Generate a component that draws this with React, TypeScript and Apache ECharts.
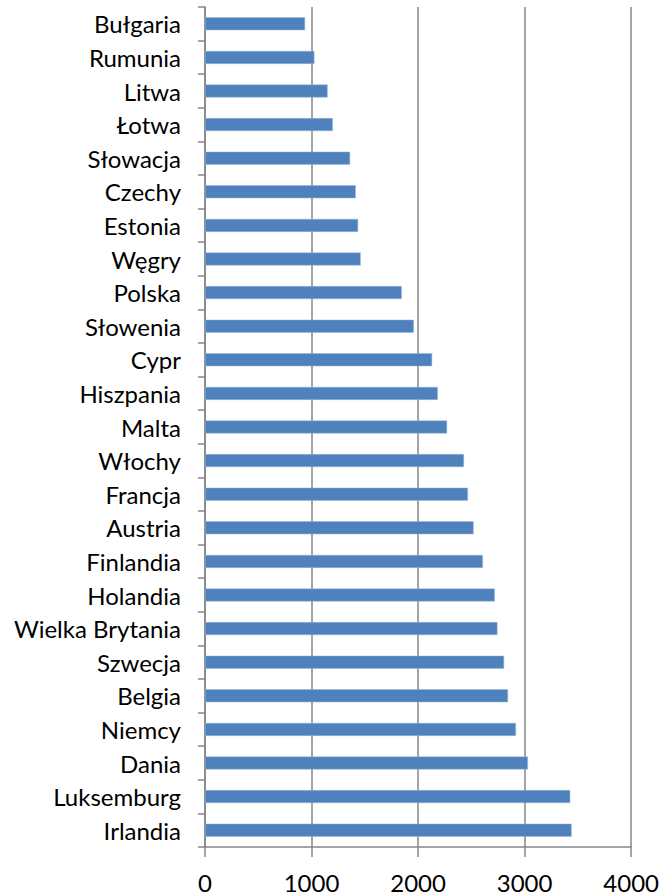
import React, { useEffect, useRef } from "react";
import * as echarts from "echarts";

const categories = [
  "Bułgaria", "Rumunia", "Litwa", "Łotwa", "Słowacja", "Czechy", "Estonia", "Węgry",
  "Polska", "Słowenia", "Cypr", "Hiszpania", "Malta", "Włochy", "Francja", "Austria",
  "Finlandia", "Holandia", "Wielka Brytania", "Szwecja", "Belgia", "Niemcy", "Dania",
  "Luksemburg", "Irlandia",
];
const values = [
  939, 1027, 1151, 1200, 1362, 1415, 1437, 1461,
  1847, 1960, 2132, 2185, 2272, 2431, 2468, 2521,
  2608, 2720, 2745, 2807, 2844, 2919, 3031,
  3428, 3441,
];
const xMin = 0;
const xMax = 4000;
const xInterval = 1000;

export default function App() {
  const ref = useRef<HTMLDivElement>(null);
  useEffect(() => {
    document.body.style.margin = "0";
    const chart = echarts.init(ref.current!, undefined, { renderer: "svg" });
    const font = "Lato";
    chart.setOption({
      animation: false,
      backgroundColor: "#ffffff",
      grid: { left: 205, right: 28, top: 7, bottom: 49, containLabel: false },
      xAxis: {
        type: "value",
        min: xMin,
        max: xMax,
        interval: xInterval,
        axisLine: { show: true, lineStyle: { color: "#868686", width: 1.5 } },
        axisTick: { show: true, length: 10, lineStyle: { color: "#868686", width: 1.5 } },
        axisLabel: {
          color: "#000",
          fontSize: 24,
          fontFamily: font,
          margin: 23,
          formatter: (v: number) => String(v),
        },
        splitLine: { show: true, lineStyle: { color: "#868686", width: 1.5 } },
      },
      yAxis: {
        type: "category",
        data: categories,
        inverse: true,
        axisLine: { show: true, lineStyle: { color: "#868686", width: 1.5 } },
        axisTick: { show: true, length: 7, lineStyle: { color: "#868686", width: 1.5 } },
        axisLabel: { color: "#000", fontSize: 24, fontFamily: font, margin: 24 },
        splitLine: { show: false },
      },
      series: [
        {
          type: "bar",
          data: values,
          barWidth: 13,
          itemStyle: { color: "#4F81BD", borderColor: "#9fb8d9", borderWidth: 0.5 },
        },
      ],
    });
    return () => chart.dispose();
  }, []);
  return <div ref={ref} style={{ width: 662, height: 896 }} />;
}
